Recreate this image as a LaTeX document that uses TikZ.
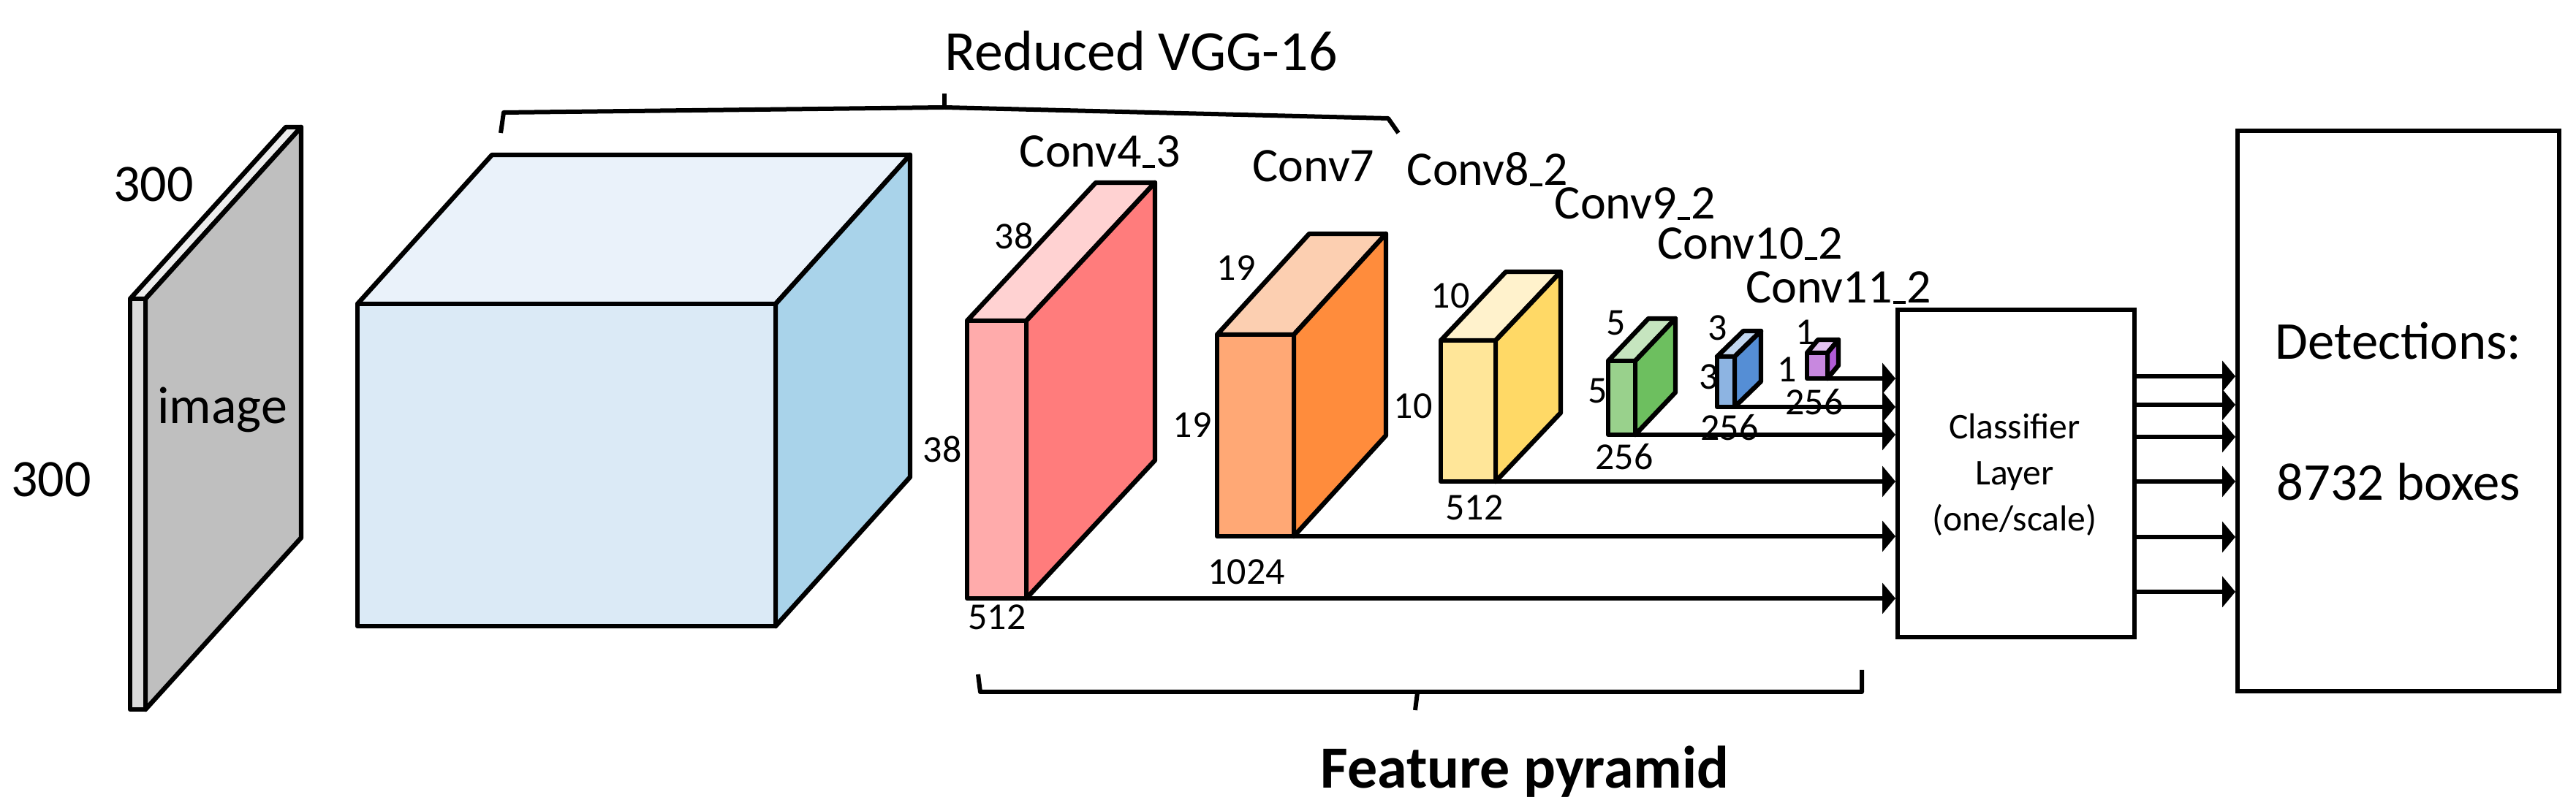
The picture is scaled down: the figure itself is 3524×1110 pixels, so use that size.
\documentclass[tikz,border=0pt]{standalone}
\usepackage{fontspec}
\setmainfont{Carlito}
\usetikzlibrary{calc,arrows.meta}
\definecolor{imgfront}{HTML}{DADADA}\definecolor{imgtop}{HTML}{ECECEC}\definecolor{imgside}{HTML}{BFBFBF}
\definecolor{vggfront}{HTML}{DBEAF6}\definecolor{vggtop}{HTML}{EAF2FA}\definecolor{vggside}{HTML}{A9D3EA}
\definecolor{cafront}{HTML}{FFABAB}\definecolor{catop}{HTML}{FFD2D2}\definecolor{caside}{HTML}{FF7C7C}
\definecolor{cbfront}{HTML}{FFA875}\definecolor{cbtop}{HTML}{FCCFB1}\definecolor{cbside}{HTML}{FF8C3C}
\definecolor{ccfront}{HTML}{FFE699}\definecolor{cctop}{HTML}{FFF2CC}\definecolor{ccside}{HTML}{FFD966}
\definecolor{cdfront}{HTML}{99D18C}\definecolor{cdtop}{HTML}{C6E5BF}\definecolor{cdside}{HTML}{6DBF5F}
\definecolor{cefront}{HTML}{8DB4E2}\definecolor{cetop}{HTML}{C1D6EF}\definecolor{ceside}{HTML}{558ED5}
\definecolor{cffront}{HTML}{C888DF}\definecolor{cftop}{HTML}{E3C2F0}\definecolor{cfside}{HTML}{B15BD6}
\newcommand\myus{\kern0.02em\rule[-0.01em]{0.26em}{0.06em}\kern0.02em}
\newcommand\mycuboid[8]{%
 \coordinate (#1-ftl) at (#2,#3);
 \coordinate (#1-ftr) at ($(#1-ftl)+(#4,0)$);
 \coordinate (#1-fbr) at ($(#1-ftl)+(#4,#5)$);
 \coordinate (#1-btl) at ($(#1-ftl)+(#6,#7)$);
 \coordinate (#1-btr) at ($(#1-ftr)+(#6,#7)$);
 \coordinate (#1-bbr) at ($(#1-fbr)+(#6,#7)$);
 \filldraw[boxline, fill=#8top] (#1-ftl) -- (#1-btl) -- (#1-btr) -- (#1-ftr) -- cycle;
 \filldraw[boxline, fill=#8side] (#1-ftr) -- (#1-btr) -- (#1-bbr) -- (#1-fbr) -- cycle;
 \filldraw[boxline, fill=#8front] (#1-ftl) rectangle (#1-fbr);
}
\begin{document}
\begin{tikzpicture}[x=0.25pt,y=-0.25pt,
  boxline/.style={line width=1.6pt, line join=round},
  brace/.style={line width=1.5pt, line join=round},
  arr/.style={line width=1.6pt, -{Triangle[length=4.5pt,width=10.5pt]}},
  lbl/.style={font=\fontsize{16.5}{18}\selectfont, inner sep=0pt, anchor=base},
  dimlbl/.style={font=\fontsize{13}{14}\selectfont, inner sep=0pt, anchor=base},
  bigbox/.style={draw, line width=1.6pt, inner sep=0pt, anchor=north west}]
\useasboundingbox (0,0) rectangle (3524,1110);
% input image plane
\mycuboid{im}{178}{409}{21}{562}{213}{-235}{img}
\node[lbl, font=\fontsize{18}{20}\selectfont] (t300a) at (210,276) {300};
\node[lbl, font=\fontsize{18}{20}\selectfont] (t300b) at (70,680) {300};
\node[lbl, font=\fontsize{18}{20}\selectfont] (timage) at (304,580) {image};
% reduced VGG-16 cube
\mycuboid{vgg}{489}{416}{572}{441}{184}{-204}{vgg}
% feature maps
\mycuboid{ca}{1323}{439}{81}{380}{176}{-189}{ca}
\mycuboid{cb}{1665}{458}{105}{276}{126}{-138}{cb}
\mycuboid{cc}{1971}{466}{75}{193}{89}{-94}{cc}
\mycuboid{cd}{2200}{494}{37}{101}{55}{-58}{cd}
\mycuboid{ce}{2349}{488}{24}{69}{36}{-35}{ce}
\mycuboid{cf}{2472}{483}{28}{35}{15}{-18}{cf}
% titles
\node[lbl] (nca) at (1505,229) {Conv4\myus3};
\node[lbl] (ncb) at (1797,249) {Conv7};
\node[lbl] (ncc) at (2035,254) {Conv8\myus2};
\node[lbl] (ncd) at (2237,300) {Conv9\myus2};
\node[lbl] (nce) at (2394,355) {Conv10\myus2};
\node[lbl] (ncf) at (2515,415) {Conv11\myus2};
% dimensions
\node[dimlbl] (da1) at (1387,341) {38};
\node[dimlbl] (da2) at (1289,633) {38};
\node[dimlbl] (da3) at (1364,862) {512};
\node[dimlbl] (db1) at (1691,384) {19};
\node[dimlbl] (db2) at (1631,599) {19};
\node[dimlbl] (db3) at (1705,800) {1024};
\node[dimlbl] (dc1) at (1984,422) {10};
\node[dimlbl] (dc2) at (1933,573) {10};
\node[dimlbl] (dc3) at (2017,712) {512};
\node[dimlbl] (dd1) at (2211,459) {5};
\node[dimlbl] (dd2) at (2186,552) {5};
\node[dimlbl] (dd3) at (2222,643) {256};
\node[dimlbl] (de1) at (2350,466) {3};
\node[dimlbl] (de2) at (2338,533) {3};
\node[dimlbl] (de3) at (2366,603) {256};
\node[dimlbl] (df1) at (2470,472) {1};
\node[dimlbl] (df2) at (2445,523) {1};
\node[dimlbl] (df3) at (2482,568) {256};
% classifier and detections
\node[bigbox, minimum width=81pt, minimum height=112pt] (cls) at (2593,421) {};
\node[lbl, font=\fontsize{12.4}{14}\selectfont] (cls1) at (2756,601) {Classifier};
\node[lbl, font=\fontsize{12.4}{14}\selectfont] (cls2) at (2756,664) {Layer};
\node[lbl, font=\fontsize{12.4}{14}\selectfont] (cls3) at (2756,727) {(one/scale)};
\node[bigbox, minimum width=110pt, minimum height=191.75pt] (det) at (3058,176) {};
\node[lbl, font=\fontsize{18.2}{20}\selectfont] (det1) at (3281,492) {Detections:};
\node[lbl, font=\fontsize{18.2}{20}\selectfont] (det2) at (3281,685) {8732 boxes};
% connectors into classifier
\foreach \c in {ca,cb,cc,cd,ce,cf}{
  \draw[arr] (\c-fbr) -- (\c-fbr -| cls.west);
}
% connectors out of classifier
\foreach \y [count=\i] in {515,554,598,659,735,810}{
  \coordinate (o\i) at (2593,\y);
  \draw[arr] (o\i -| cls.east) -- (o\i -| det.west);
}
% braces
\coordinate (ba) at (685,182);
\coordinate (bb) at (689,154);
\coordinate (bc) at (1292,147);
\coordinate (bd) at (1899,162);
\coordinate (be) at (1913,182);
\coordinate (bt) at (1292,128);
\draw[brace] (ba) -- (bb) -- (bc) -- (bd) -- (be);
\draw[brace] (bc) -- (bt);
\node[lbl, font=\fontsize{19.5}{21}\selectfont, anchor=base west] (vggt) at (1292,97) {Reduced VGG-16};
\coordinate (fa) at (1338,923);
\coordinate (fb) at (1341,947);
\coordinate (fc) at (2547,947);
\coordinate (fd) at (2547,917);
\coordinate (fm) at (1939,948);
\coordinate (fn) at (1936,972);
\draw[brace] (fa) -- (fb) -- (fc) -- (fd);
\draw[brace] (fm) -- (fn);
\node[lbl, font=\bfseries\fontsize{20.5}{22}\selectfont] (fpt) at (2086,1078) {Feature pyramid};
\end{tikzpicture}
\end{document}
